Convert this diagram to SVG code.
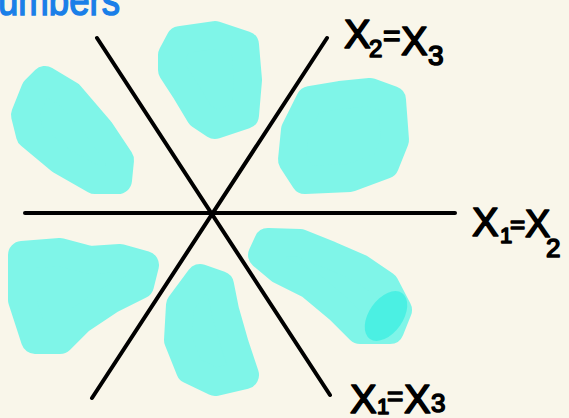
<svg xmlns="http://www.w3.org/2000/svg" width="569" height="418" viewBox="0 0 569 418">
<style>
.blob{fill:#7ff5e8;stroke:#7ff5e8;stroke-width:28;stroke-linejoin:round}
.ln{stroke:#000;stroke-width:4;stroke-linecap:round;fill:none}
.lab{font-family:"Liberation Sans",Arial,sans-serif;fill:#000;stroke:#000;stroke-width:1.6;stroke-linejoin:round}
.title{font-family:"Liberation Sans",Arial,sans-serif;font-size:42px;fill:#1a7fe8;stroke:#1a7fe8;stroke-width:1.5}
</style>
<rect width="569" height="418" fill="#f9f6ea"/>
<text class="title" x="-2" y="15" textLength="122" lengthAdjust="spacingAndGlyphs">umbers</text>
<g id="regions">
<path class="blob" d="M45,80 L70,95 L100,130 L120,160 L118,180 L95,180 L60,160 L30,135 L25,115 L35,90 Z"/>
<path class="blob" d="M180,40 L215,35 L245,45 L248,80 L245,115 L215,125 L200,115 L185,90 L172,70 L172,55 Z"/>
<path class="blob" d="M310,100 L340,95 L370,92 L392,100 L395,140 L385,165 L350,178 L305,180 L292,160 L295,130 Z"/>
<path class="blob" d="M22,255 L60,252 L90,260 L120,258 L145,265 L140,285 L110,300 L80,320 L60,340 L35,340 L22,300 Z"/>
<path class="blob" d="M200,278 L220,285 L225,310 L235,345 L245,375 L215,382 L190,370 L178,340 L180,305 Z"/>
<path class="blob" d="M268,242 L300,243 L330,255 L360,268 L385,285 L398,310 L390,330 L360,330 L340,310 L310,285 L280,270 L262,255 Z"/>
<ellipse cx="386" cy="316" rx="17" ry="28" transform="rotate(35 386 316)" fill="#46f0e2" opacity="0.9"/>
</g>
<g id="connectors">
<line class="ln" x1="25" y1="213" x2="455" y2="213"/>
<line class="ln" x1="97" y1="38" x2="330" y2="395"/>
<line class="ln" x1="327" y1="38" x2="92" y2="398"/>
</g>
<g id="label-x2x3"><text class="lab"><tspan x="344" y="48" font-size="40">X</tspan><tspan x="369" y="57" font-size="24">2</tspan><tspan x="383" y="46" font-size="30">=</tspan><tspan x="401" y="55" font-size="40">X</tspan><tspan x="428" y="65" font-size="28">3</tspan></text></g>
<g id="label-x1x2"><text class="lab"><tspan x="472" y="236" font-size="40">X</tspan><tspan x="500" y="243" font-size="22">1</tspan><tspan x="510" y="233" font-size="26">=</tspan><tspan x="525" y="237" font-size="38">X</tspan><tspan x="546" y="257" font-size="26">2</tspan></text></g>
<g id="label-x1x3"><text class="lab"><tspan x="350" y="413" font-size="40">X</tspan><tspan x="377" y="414" font-size="22">1</tspan><tspan x="387" y="406" font-size="28">=</tspan><tspan x="404" y="413" font-size="40">X</tspan><tspan x="431" y="412" font-size="26">3</tspan></text></g>
</svg>
